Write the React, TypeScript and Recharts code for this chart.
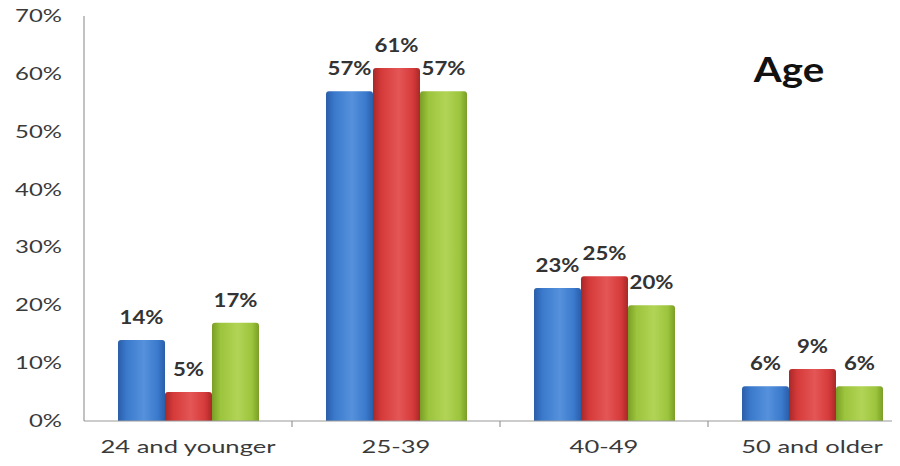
import React from 'react'
import { BarChart, Bar, XAxis, YAxis, LabelList } from 'recharts'

const categories = ['24 and younger', '25-39', '40-49', '50 and older']
const seriesBlue = [14, 57, 23, 6]
const seriesRed = [5, 61, 25, 9]
const seriesGreen = [17, 57, 20, 6]
const yTicks = [0, 10, 20, 30, 40, 50, 60, 70]

const data = categories.map((name, i) => ({
  name,
  blue: seriesBlue[i],
  red: seriesRed[i],
  green: seriesGreen[i],
}))

const CHART_W = 916
const CHART_H = 466
const YAXIS_W = 84
const MARGIN = { top: 16, right: 0, bottom: 0, left: 0 }
const BAND = (CHART_W - MARGIN.left - MARGIN.right - YAXIS_W) / categories.length
const FONT = 'Lato, "Open Sans", sans-serif'

const YTick = (props: any) => {
  const { x, y, payload } = props
  return (
    <text
      transform={`translate(${x},${y + 6}) scale(1.45,1)`}
      textAnchor="end"
      fontFamily={FONT}
      fontSize={16.5}
      fill="#3a3a3a"
    >
      {`${payload.value}%`}
    </text>
  )
}

const XTick = (props: any) => {
  const { x, y, payload } = props
  const edge = x + BAND / 2
  return (
    <g>
      <line x1={edge} y1={y} x2={edge} y2={y + 6} stroke="#999" strokeWidth={1.2} />
      <text
        transform={`translate(${x},${y + 32}) scale(1.42,1)`}
        textAnchor="middle"
        fontFamily={FONT}
        fontSize={18}
        fill="#3a3a3a"
      >
        {payload.value}
      </text>
    </g>
  )
}

const ValueLabel = (props: any) => {
  const { x, y, width, value } = props
  return (
    <text
      transform={`translate(${x + width / 2},${y - 16}) scale(1.2,1)`}
      textAnchor="middle"
      fontFamily={FONT}
      fontWeight={700}
      fontSize={18.5}
      fill="#333"
    >
      {`${value}%`}
    </text>
  )
}

// horizontal shading so each bar reads like a rounded column
const shades: Record<string, [string, string, string]> = {
  blue: ['#2a5ea8', '#3a79cc', '#5591dc'],
  red: ['#a82828', '#d63a3a', '#e45656'],
  green: ['#7a9e26', '#9cc43c', '#b2d456'],
}

export default function App() {
  return (
    <div style={{ width: 900, height: 466, overflow: 'hidden', margin: -8, background: '#fff' }}>
      <BarChart
        width={CHART_W}
        height={CHART_H}
        data={data}
        margin={MARGIN}
        barGap={0}
        barCategoryGap={34}
      >
        <defs>
          {Object.entries(shades).map(([key, [dark, base, light]]) => (
            <linearGradient key={key} id={`grad-${key}`} x1="0" y1="0" x2="1" y2="0">
              <stop offset="0%" stopColor={dark} />
              <stop offset="18%" stopColor={base} />
              <stop offset="55%" stopColor={light} />
              <stop offset="85%" stopColor={base} />
              <stop offset="100%" stopColor={dark} />
            </linearGradient>
          ))}
        </defs>
        <XAxis
          dataKey="name"
          height={45}
          tickLine={false}
          tickSize={0}
          tickMargin={0}
          axisLine={{ stroke: '#999', strokeWidth: 1.2 }}
          tick={<XTick />}
          interval={0}
        />
        <YAxis
          width={YAXIS_W}
          domain={[0, 70]}
          ticks={yTicks}
          tickLine={false}
          tickSize={0}
          tickMargin={22}
          axisLine={{ stroke: '#999', strokeWidth: 1.2 }}
          tick={<YTick />}
        />
        <Bar dataKey="blue" fill="url(#grad-blue)" radius={[3, 3, 0, 0]} isAnimationActive={false}>
          <LabelList dataKey="blue" content={<ValueLabel />} />
        </Bar>
        <Bar dataKey="red" fill="url(#grad-red)" radius={[3, 3, 0, 0]} isAnimationActive={false}>
          <LabelList dataKey="red" content={<ValueLabel />} />
        </Bar>
        <Bar dataKey="green" fill="url(#grad-green)" radius={[3, 3, 0, 0]} isAnimationActive={false}>
          <LabelList dataKey="green" content={<ValueLabel />} />
        </Bar>
        <text
          x={789}
          y={82}
          textAnchor="middle"
          fontFamily={FONT}
          fontWeight={700}
          fontSize={35}
          fill="#111"
          transform="translate(789,0) scale(1.15,1) translate(-789,0)"
        >
          Age
        </text>
      </BarChart>
    </div>
  )
}
